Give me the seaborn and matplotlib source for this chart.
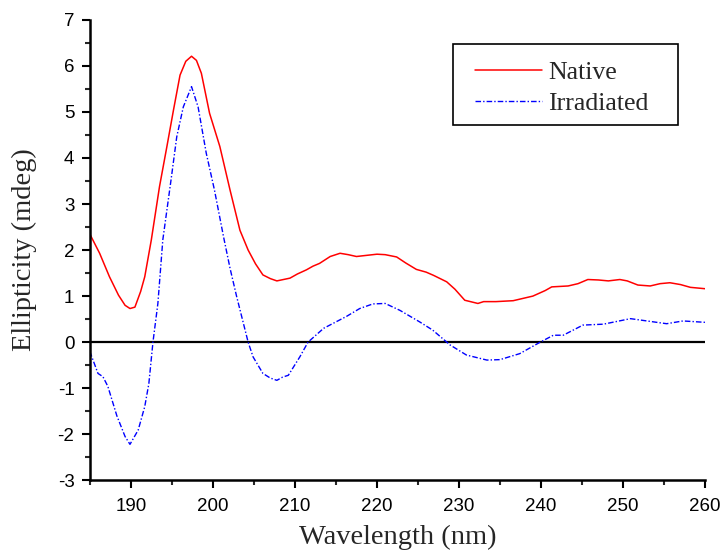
import pandas as pd
import seaborn as sns
import matplotlib.pyplot as plt
from matplotlib.patches import Rectangle
from matplotlib.ticker import MultipleLocator

# values
native_nm = [185, 186.2, 187.4, 188.5, 189.3, 189.9, 190.5, 191.2, 191.7, 192.5,
             193.5, 194.4, 195.2, 196, 196.7, 197.4, 198, 198.6, 199.6, 200.85,
             202.1, 203.3, 204.3, 205.2, 206.1, 207, 207.8, 209.4, 210.3, 211.4,
             212.2, 213, 214.3, 215.5, 216.5, 217.5, 218.5, 220, 221, 222.4,
             223.5, 224.8, 226, 226.9, 228.5, 229.5, 230.7, 232.3, 233, 234.5,
             236.6, 239, 240.5, 241.3, 243.3, 244.5, 245.7, 247, 248.2, 249.6,
             250.5, 251.8, 253.3, 254.5, 255.7, 257, 258.2, 260]
native_mdeg = [2.35, 1.93, 1.42, 1.02, 0.8, 0.73, 0.76, 1.1, 1.42, 2.22,
               3.38, 4.25, 5.04, 5.8, 6.1, 6.21, 6.12, 5.84, 4.97, 4.25,
               3.3, 2.43, 2.0, 1.7, 1.46, 1.38, 1.33, 1.39, 1.48, 1.57,
               1.65, 1.71, 1.86, 1.93, 1.9, 1.86, 1.88, 1.91, 1.9, 1.85,
               1.72, 1.58, 1.52, 1.45, 1.31, 1.15, 0.91, 0.84, 0.88, 0.88,
               0.9, 1.0, 1.12, 1.2, 1.22, 1.27, 1.36, 1.35, 1.33, 1.36,
               1.33, 1.24, 1.22, 1.27, 1.29, 1.25, 1.19, 1.16]

irr_nm = [185, 186, 186.6, 187.2, 188.3, 189.3, 189.9, 190.9, 191.7, 192.2,
          192.7, 193.3, 193.9, 194.9, 195.6, 196.4, 197.4, 198.2, 199.2, 200.2,
          201.3, 202.1, 202.9, 204.3, 204.9, 206.1, 207, 207.8, 208.5, 209.2,
          210.6, 211.6, 213.5, 216.3, 217.9, 219.5, 221, 222.8, 225.2, 226.8,
          228.9, 230.9, 233.4, 235, 237.4, 239.9, 241.5, 242.7, 245.1, 247.6,
          250.9, 252.9, 255.3, 257.3, 260]
irr_mdeg = [-0.2, -0.68, -0.75, -0.96, -1.6, -2.05, -2.22, -1.91, -1.4, -0.9,
            0.0, 0.84, 2.22, 3.52, 4.46, 5.11, 5.55, 5.11, 4.1, 3.3,
            2.29, 1.6, 0.99, 0.0, -0.32, -0.68, -0.78, -0.83, -0.76, -0.72,
            -0.32, 0.0, 0.3, 0.56, 0.73, 0.83, 0.84, 0.69, 0.44, 0.26,
            -0.06, -0.28, -0.39, -0.38, -0.25, 0.0, 0.15, 0.15, 0.37, 0.39,
            0.51, 0.46, 0.4, 0.46, 0.43]

sns.set_style("ticks")
plt.rcParams['font.family'] = ['Liberation Sans', 'DejaVu Sans']
plt.rcParams['axes.unicode_minus'] = False

fig = plt.figure(figsize=(7.24, 5.52), dpi=100)
ax = fig.add_axes([0.124, 0.13, 0.85, 0.834])

ax.axhline(0, color='black', lw=1.6, zorder=1)
sns.lineplot(x=native_nm, y=native_mdeg, ax=ax, color='red', lw=1.1,
             label='Native', estimator=None)
sns.lineplot(x=irr_nm, y=irr_mdeg, ax=ax, color='blue', lw=1.0,
             label='Irradiated', estimator=None)
ax.lines[-1].set_linestyle((0, (4, 1.5, 1, 1.5)))

ax.set_xlim(185, 260)
ax.set_ylim(-3, 7)
ax.xaxis.set_major_locator(MultipleLocator(10))
ax.xaxis.set_minor_locator(MultipleLocator(5))
ax.yaxis.set_major_locator(MultipleLocator(1))
ax.yaxis.set_minor_locator(MultipleLocator(0.5))
ax.tick_params(which='major', direction='out', length=6, width=1.5, labelsize=13.5,
               colors='black')
ax.tick_params(axis='x', which='major', pad=7)
ax.tick_params(axis='y', which='major', pad=5)
ax.tick_params(which='minor', direction='out', length=3.5, width=1.5)
for s in ['top', 'right']:
    ax.spines[s].set_visible(False)
for s in ['left', 'bottom']:
    ax.spines[s].set_linewidth(1.8)
    ax.spines[s].set_color('black')

ax.set_xlabel('Wavelength (nm)', family='Liberation Serif', fontsize=20.5, labelpad=7)
ax.set_ylabel('Ellipticity (mdeg)', family='Liberation Serif', fontsize=20.5, labelpad=15)

# legend drawn without its own frame, box added separately to match the padding
leg = ax.legend(loc='upper left', bbox_to_anchor=(0.626, 0.911), borderaxespad=0,
                frameon=False, handlelength=2.6, handletextpad=0.25,
                borderpad=0, labelspacing=0.33,
                prop={'family': 'Liberation Serif', 'size': 18.5})
ax.add_patch(Rectangle((0.590, 0.772), 0.366, 0.176, transform=ax.transAxes,
                       fill=False, edgecolor='black', lw=1.2, zorder=5))

fig.savefig('out.png', dpi=100)
